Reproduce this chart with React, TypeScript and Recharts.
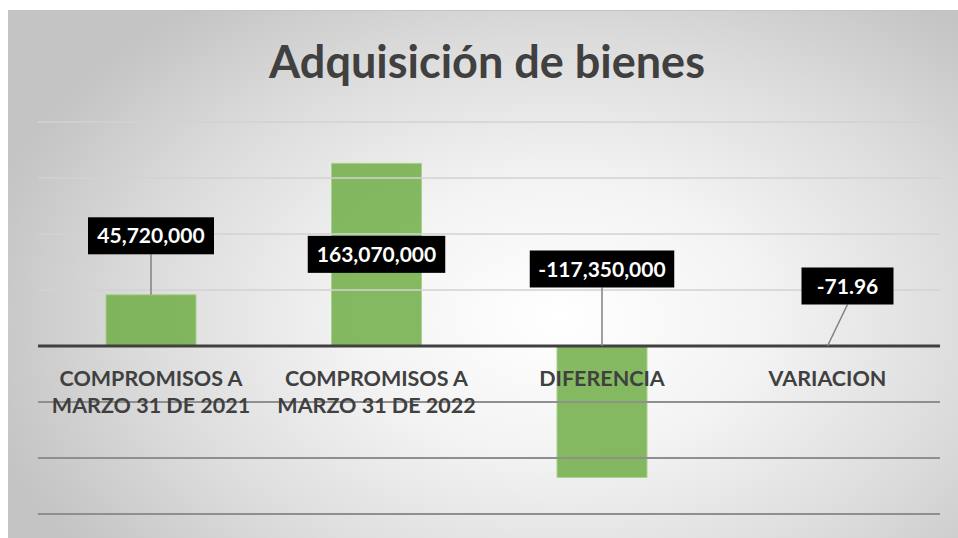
import React from "react";
import { BarChart, Bar, XAxis, YAxis, ReferenceLine, LabelList } from "recharts";

const CATEGORIES = [
  "COMPROMISOS A MARZO 31 DE 2021",
  "COMPROMISOS A MARZO 31 DE 2022",
  "DIFERENCIA",
  "VARIACION",
];
const VALUES = [45720000, 163070000, -117350000, -71.96];
const Y_TICKS = [-150000000, -100000000, -50000000, 0, 50000000, 100000000, 150000000, 200000000];

// where each value box sits relative to the top of its bar
const LABEL_SHIFT = [
  { dx: 0, dy: -59 },
  { dx: 0, dy: 91 },
  { dx: 0, dy: -77 },
  { dx: 20, dy: -60 },
];

const data = CATEGORIES.map((name, i) => ({ name, value: VALUES[i] }));

const FONT = "Lato, 'Open Sans', sans-serif";
const TEXT = "#404040";

const fmt = (v: number) =>
  Number.isInteger(v) ? v.toLocaleString("en-US") : v.toFixed(2);

// rough width of the bold label digits
const textWidth = (s: string) =>
  s.split("").reduce((acc, c) => acc + (c === "," || c === "." ? 5 : c === "-" ? 7 : 11.5), 0);

const wrap = (s: string, max = 16) => {
  const lines: string[] = [];
  let cur = "";
  s.split(" ").forEach((w) => {
    if (cur && (cur + " " + w).length > max) {
      lines.push(cur);
      cur = w;
    } else cur = cur ? cur + " " + w : w;
  });
  if (cur) lines.push(cur);
  return lines;
};

const rectOf = (props: any) => {
  const vb = props.viewBox || props;
  const x = Number(vb.x), y = Number(vb.y), w = Number(vb.width), h = Number(vb.height);
  return { x, w, top: Math.min(y, y + h), bottom: Math.max(y, y + h) };
};

const ValueLabel = (props: any) => {
  const { index, value } = props;
  const r = rectOf(props);
  const cx = r.x + r.w / 2;
  const shift = LABEL_SHIFT[index] || { dx: 0, dy: -40 };
  const bx = cx + shift.dx;
  const by = r.top + shift.dy;
  const txt = fmt(value);
  const bw = Math.max(textWidth(txt) + 24, 92);
  const bh = 37;
  const boxBottom = by + bh / 2;
  return (
    <g>
      {boxBottom < r.top && (
        <line x1={bx} y1={boxBottom} x2={cx} y2={r.top} stroke="#808080" strokeWidth={1.5} />
      )}
      <rect x={bx - bw / 2} y={by - bh / 2} width={bw} height={bh} fill="#000" />
      <text
        x={bx}
        y={by + 7.5}
        textAnchor="middle"
        fill="#fff"
        fontFamily={FONT}
        fontWeight={700}
        fontSize={21}
      >
        {txt}
      </text>
    </g>
  );
};

const CategoryLabel = (props: any) => {
  const { index } = props;
  const r = rectOf(props);
  const zero = VALUES[index] >= 0 ? r.bottom : r.top;
  const cx = r.x + r.w / 2;
  return (
    <text textAnchor="middle" fill={TEXT} fontFamily={FONT} fontWeight={700} fontSize={21.5}>
      {wrap(CATEGORIES[index]).map((line, i) => (
        <tspan key={i} x={cx} y={zero + 40 + i * 27}>
          {line}
        </tspan>
      ))}
    </text>
  );
};

export default function App() {
  return (
    <div
      style={{
        position: "absolute",
        left: 0,
        top: 0,
        width: 958,
        height: 538,
        background: "#fff",
        overflow: "hidden",
      }}
    >
      <div
        style={{
          position: "absolute",
          left: 8,
          top: 10,
          width: 950,
          height: 528,
          borderTop: "1px solid #c4c4c4",
          background:
            "radial-gradient(ellipse 62% 75% at 58% 58%, #ffffff 0%, #f3f3f3 35%, #dcdcdc 70%, #c4c4c4 100%)",
        }}
      />
      <div
        style={{
          position: "absolute",
          left: 8,
          top: 41,
          width: 958,
          textAlign: "center",
          fontFamily: FONT,
          fontWeight: 700,
          fontSize: 45,
          lineHeight: "40px",
          color: TEXT,
        }}
      >
        Adquisición de bienes
      </div>
      <div style={{ position: "absolute", left: 0, top: 0 }}>
        <BarChart
          width={958}
          height={538}
          data={data}
          margin={{ top: 122, right: 18, bottom: 24, left: 38 }}
        >
          <XAxis dataKey="name" hide />
          <YAxis hide domain={[-150000000, 200000000]} ticks={Y_TICKS} />
          {Y_TICKS.filter((t) => t !== 0).map((t) => (
            <ReferenceLine
              key={t}
              y={t}
              stroke={t > 0 ? "#d2d2d2" : "#8f8f8f"}
              strokeWidth={t > 0 ? 1.5 : 2}
            />
          ))}
          <Bar
            dataKey="value"
            barSize={90}
            fill="#70AD47"
            fillOpacity={0.85}
            stroke="#A9D18E"
            strokeWidth={1}
            isAnimationActive={false}
          >
            <LabelList dataKey="value" content={CategoryLabel} />
            <LabelList dataKey="value" content={ValueLabel} />
          </Bar>
          <ReferenceLine y={0} stroke="#404040" strokeWidth={3} />
        </BarChart>
      </div>
    </div>
  );
}
